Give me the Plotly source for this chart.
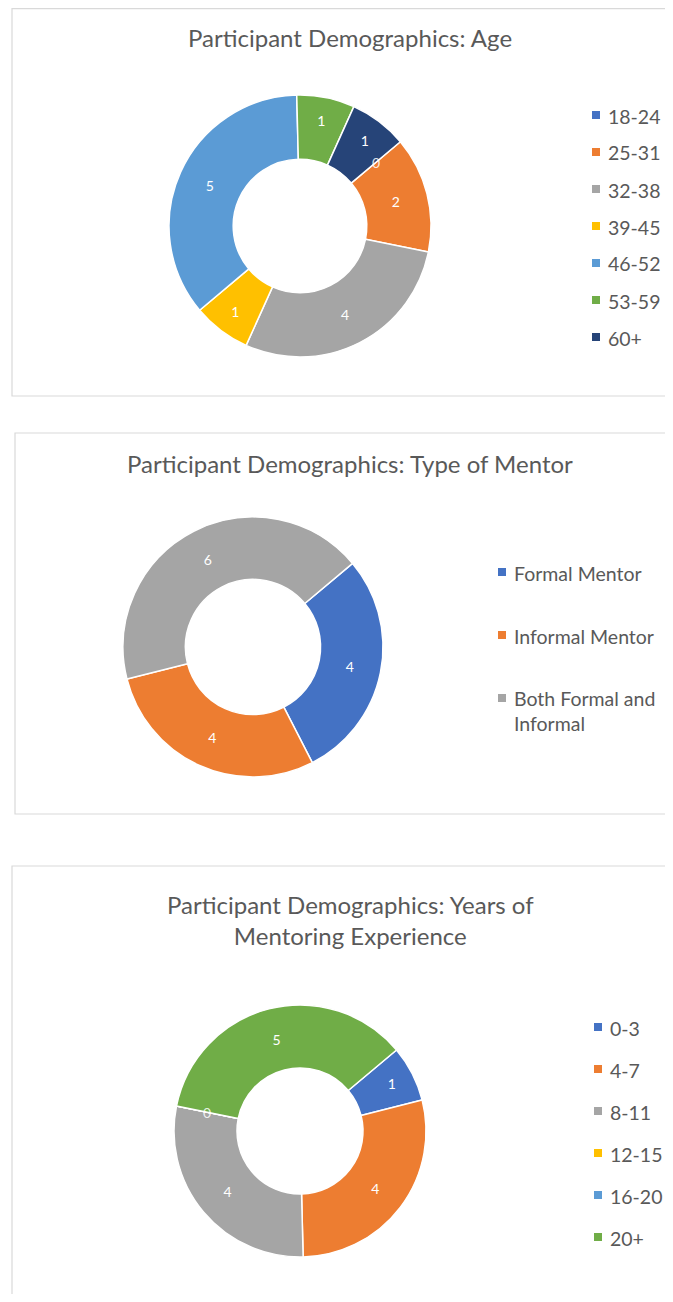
import math
import textwrap
import plotly.graph_objects as go

W, H = 673, 1302               # browser window
OFF = 8                        # default page margin around the plot div
FW, FH = W - 2 * OFF, H - 2 * OFF  # figure fits inside the page body

# ---------------- data ----------------
age_title = "Participant Demographics: Age"
age_labels = ["18-24", "25-31", "32-38", "39-45", "46-52", "53-59", "60+"]
age_values = [0, 2, 4, 1, 5, 1, 1]

mentor_title = "Participant Demographics: Type of Mentor"
mentor_labels = ["Formal Mentor", "Informal Mentor", "Both Formal and Informal"]
mentor_values = [4, 4, 6]

years_title = "Participant Demographics: Years of<br>Mentoring Experience"
years_labels = ["0-3", "4-7", "8-11", "12-15", "16-20", "20+"]
years_values = [1, 4, 4, 0, 0, 5]

# Office palette
palette = ["#4472C4", "#ED7D31", "#A5A5A5", "#FFC000", "#5B9BD5", "#70AD47", "#264478"]

FONT = "Lato"
TEXT_COLOR = "#595959"
BORDER = "#D9D9D9"
ROTATION = 50


def px(x):
    return (x - OFF) / FW


def py(y):
    return 1 - (y - OFF) / FH


# panel layout (page pixel geometry); frames run off the right edge of the page
panels = [
    dict(title=age_title, labels=age_labels, values=age_values,
         box=(12, 8.6, 720, 396), title_y=37,
         center=(300, 226), r=131, hole=0.51,
         leg_mx=592, leg_tx=606, leg_y0=115, leg_gap=37),
    dict(title=mentor_title, labels=mentor_labels, values=mentor_values,
         box=(15, 433, 720, 814), title_y=463,
         center=(253, 647), r=130, hole=0.52,
         leg_mx=498, leg_tx=512, leg_y0=572, leg_gap=63),
    dict(title=years_title, labels=years_labels, values=years_values,
         box=(12, 866, 720, 1330), title_y=920,
         center=(300, 1131), r=126, hole=0.50,
         leg_mx=594, leg_tx=608, leg_y0=1027, leg_gap=42),
]

fig = go.Figure()
shapes = []
annotations = []

LEG_FS = 19.5
LINE_GAP = LEG_FS * 1.25
LBL_FS = 14

for p in panels:
    cx, cy = p["center"]
    r = p["r"]
    colors = palette[:len(p["labels"])]
    fig.add_trace(go.Pie(
        labels=p["labels"], values=p["values"],
        marker=dict(colors=colors, line=dict(color="white", width=1.5)),
        hole=p["hole"], sort=False, direction="clockwise", rotation=ROTATION,
        textinfo="value", textposition="inside",
        insidetextorientation="horizontal",
        textfont=dict(family=FONT, size=LBL_FS, color="white"),
        domain=dict(x=[px(cx - r), px(cx + r)], y=[py(cy + r), py(cy - r)]),
        showlegend=False, hoverinfo="label+value",
    ))
    # zero-valued categories still get a "0" label on their (zero-width) slice
    total = sum(p["values"])
    cum = 0
    seen = set()
    for v in p["values"]:
        if v == 0 and cum not in seen:
            seen.add(cum)
            ang = math.radians(ROTATION + cum / total * 360)
            rm = r * (1 + p["hole"]) / 2
            annotations.append(dict(
                text="0", x=px(cx + rm * math.sin(ang)), y=py(cy - rm * math.cos(ang)),
                xref="paper", yref="paper", showarrow=False,
                xanchor="center", yanchor="middle",
                font=dict(family=FONT, size=LBL_FS, color="rgba(255,255,255,0.85)")))
        cum += v
    # panel frame: top, left and bottom edges (the right side is off-page)
    x0, y0, x1, y1 = p["box"]
    path = (f"M {px(x1)},{py(y0)} L {px(x0)},{py(y0)} "
            f"L {px(x0)},{py(y1)} L {px(x1)},{py(y1)}")
    shapes.append(dict(type="path", xref="paper", yref="paper", path=path,
                       line=dict(color=BORDER, width=1.2), layer="below"))
    # title
    annotations.append(dict(text=p["title"], x=px(350), y=py(p["title_y"]),
                            xref="paper", yref="paper", showarrow=False,
                            xanchor="center", yanchor="middle",
                            font=dict(family=FONT, size=24, color=TEXT_COLOR)))
    # legend
    for i, (lab, col) in enumerate(zip(p["labels"], colors)):
        yy = p["leg_y0"] + i * p["leg_gap"]
        lines = textwrap.wrap(lab, 15)
        n = len(lines)
        shapes.append(dict(type="rect", xref="paper", yref="paper",
                           x0=px(p["leg_mx"]), x1=px(p["leg_mx"] + 8),
                           y0=py(yy + 4), y1=py(yy - 4),
                           line=dict(width=0), fillcolor=col))
        annotations.append(dict(text="<br>".join(lines), x=px(p["leg_tx"]),
                                y=py(yy + (n - 1) * LINE_GAP / 2 + 1),
                                xref="paper", yref="paper", showarrow=False,
                                xanchor="left", yanchor="middle", align="left",
                                font=dict(family=FONT, size=LEG_FS, color=TEXT_COLOR)))

fig.update_layout(width=FW, height=FH, margin=dict(l=0, r=0, t=0, b=0),
                  paper_bgcolor="white", plot_bgcolor="white",
                  shapes=shapes, annotations=annotations, showlegend=False)

fig.write_html("out.html")
